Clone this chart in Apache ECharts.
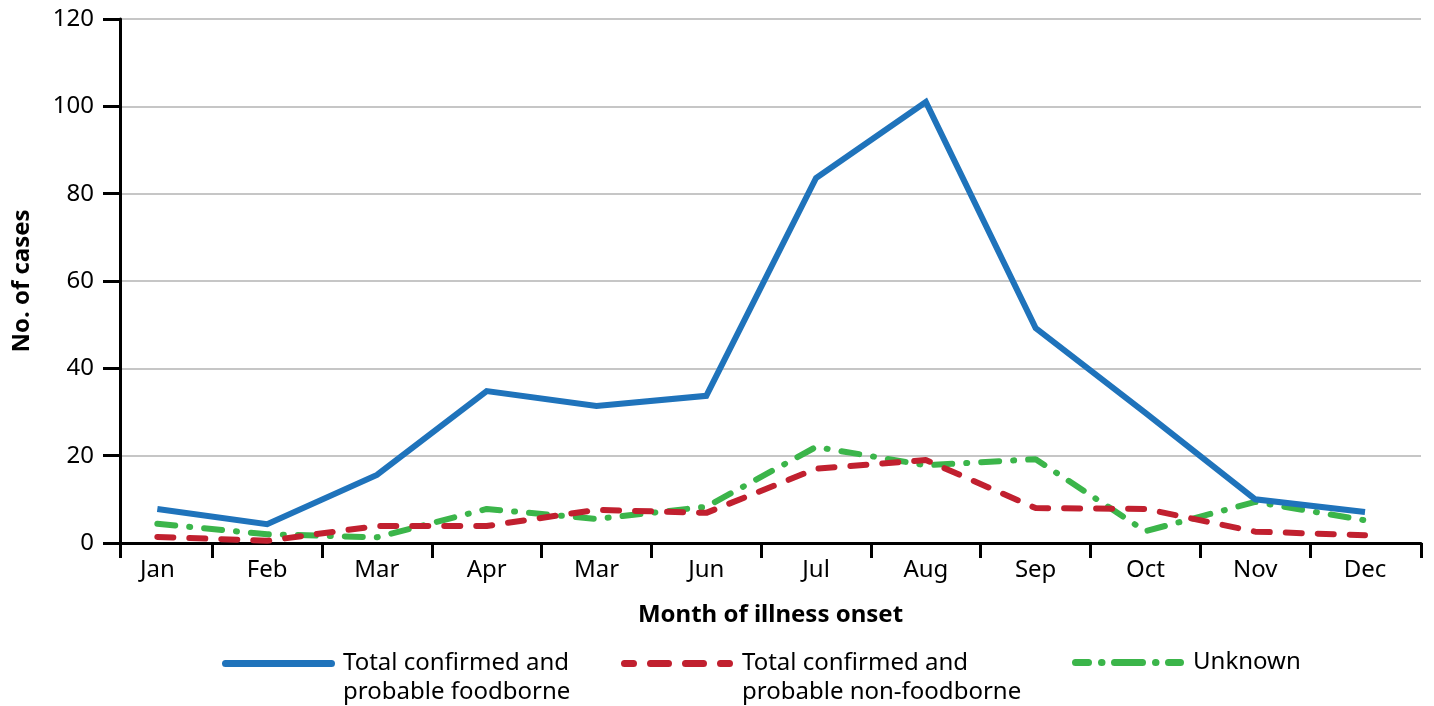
<!DOCTYPE html>
<html>
<head>
<meta charset="utf-8">
<script src="https://cdn.jsdelivr.net/npm/echarts@6/dist/echarts.min.js"></script>
<style>
  html, body { margin: 0; padding: 0; background: #fff; }
  #chart { width: 1434px; height: 706px; }
</style>
</head>
<body>
<div id="chart"></div>
<script>
// Months as printed in the source (the fifth label really reads "Mar")
const months = ['Jan', 'Feb', 'Mar', 'Apr', 'Mar', 'Jun', 'Jul', 'Aug', 'Sep', 'Oct', 'Nov', 'Dec'];

const foodborne = [7.8, 4.3, 15.6, 34.8, 31.4, 33.7, 83.6, 101, 49.2, 29.8, 10, 7.1];
const nonFoodborne = [1.4, 0.5, 3.9, 3.9, 7.6, 6.9, 17, 19, 8, 7.8, 2.6, 1.8];
const unknown = [4.4, 2, 1.3, 7.8, 5.5, 8.3, 22, 17.8, 19.2, 2.7, 9.4, 5.2];

const seriesNames = [
    'Total confirmed and\nprobable foodborne',
    'Total confirmed and\nprobable non-foodborne',
    'Unknown'
];

const yTicks = [0, 20, 40, 60, 80, 100, 120];

const FONT = '"Noto Sans", "Open Sans", sans-serif';
const COLORS = ['#1f73bb', '#c1202f', '#3bb54a'];

// month index -> x position on a value axis
const toPairs = arr => arr.map((v, i) => [i, v]);
const monthIdx = months.map((m, i) => i);
// ticks sit between months plus at both ends
const tickVals = [-0.34].concat(months.slice(1).map((m, i) => i + 0.5), [11.51]);

// legend icons: rounded bars drawn in the upper part of the box so they line up with the first text line
function bar(x0, x1, yc, h) {
    const r = h / 2;
    return `M${x0 + r} ${yc - r}H${x1 - r}A${r} ${r} 0 0 1 ${x1 - r} ${yc + r}H${x0 + r}A${r} ${r} 0 0 1 ${x0 + r} ${yc - r}Z`;
}
function iconPath(segments, w, h, yc) {
    // tiny corner marks keep the bounding box at w x h
    let d = `M0 0h0.01v0.01h-0.01Z M${w - 0.01} ${h - 0.01}h0.01v0.01h-0.01Z `;
    segments.forEach(s => { d += bar(s[0], s[1], yc, 7) + ' '; });
    return 'path://' + d;
}
const ICON_W = 116;
const blueIcon = iconPath([[0, 113]], ICON_W, 58, 14.5);
const redIcon = iconPath([[0, 16], [26, 51], [61, 86], [96, 112]], ICON_W, 58, 14.5);
const greenIcon = iconPath([[0, 20], [26, 33.5], [39, 74], [80, 87.5], [93, 112]], ICON_W, 8, 4);

const legendText = {
    fontFamily: FONT,
    fontSize: 24,
    color: '#000',
    lineHeight: 29
};

function makeLegend(name, icon, left, top, h) {
    return {
        data: [name],
        icon: icon,
        left: left,
        top: top,
        itemWidth: ICON_W,
        itemHeight: h,
        itemGap: 0,
        selectedMode: false,
        itemStyle: { borderWidth: 0 },
        textStyle: legendText
    };
}

const chart = echarts.init(document.getElementById('chart'));

const option = {
    backgroundColor: '#fff',
    animation: false,
    textStyle: { fontFamily: FONT, color: '#000' },
    grid: { left: 120, right: 13, top: 19, bottom: 163 },
    legend: [
        makeLegend(seriesNames[0], blueIcon, 217, 644, 58),
        makeLegend(seriesNames[1], redIcon, 616, 644, 58),
        makeLegend(seriesNames[2], greenIcon, 1067, 643, 8)
    ],
    xAxis: {
        type: 'value',
        min: -0.34,
        max: 11.51,
        name: 'Month of illness onset',
        nameLocation: 'middle',
        nameGap: 60,
        nameTextStyle: { fontFamily: FONT, fontSize: 24, fontWeight: 'bold', color: '#000' },
        axisLine: { show: true, onZero: false, lineStyle: { color: '#000', width: 3 } },
        axisTick: {
            show: true,
            length: 15,
            customValues: tickVals,
            lineStyle: { color: '#000', width: 3 }
        },
        axisLabel: {
            fontFamily: FONT,
            fontSize: 24,
            color: '#000',
            margin: 15,
            customValues: monthIdx,
            formatter: v => months[Math.round(v)]
        },
        splitLine: { show: false }
    },
    yAxis: {
        type: 'value',
        min: 0,
        max: 120,
        interval: 20,
        name: 'No. of cases',
        nameLocation: 'middle',
        nameGap: 86,
        nameRotate: 90,
        nameTextStyle: { fontFamily: FONT, fontSize: 24, fontWeight: 'bold', color: '#000' },
        axisLine: { show: true, onZero: false, lineStyle: { color: '#000', width: 3 } },
        axisTick: { show: true, length: 17, lineStyle: { color: '#000', width: 3 } },
        axisLabel: {
            fontFamily: FONT, fontSize: 24, color: '#000', margin: 26,
            formatter: v => (yTicks.indexOf(v) >= 0 ? String(v) : '')
        },
        splitLine: { show: true, lineStyle: { color: '#b3b3b3', width: 1.5 } }
    },
    series: [
        {
            name: seriesNames[0],
            type: 'line',
            data: toPairs(foodborne),
            symbol: 'none',
            z: 4,
            lineStyle: { color: COLORS[0], width: 6, join: 'miter' },
            itemStyle: { color: COLORS[0] }
        },
        {
            name: seriesNames[1],
            type: 'line',
            data: toPairs(nonFoodborne),
            symbol: 'none',
            z: 3,
            lineStyle: { color: COLORS[1], width: 6, type: [16, 16], cap: 'round' },
            itemStyle: { color: COLORS[1] }
        },
        {
            name: seriesNames[2],
            type: 'line',
            data: toPairs(unknown),
            symbol: 'none',
            z: 2,
            lineStyle: { color: COLORS[2], width: 6, type: [18, 14, 1, 14], cap: 'round' },
            itemStyle: { color: COLORS[2] }
        }
    ]
};

chart.setOption(option);
</script>
</body>
</html>
